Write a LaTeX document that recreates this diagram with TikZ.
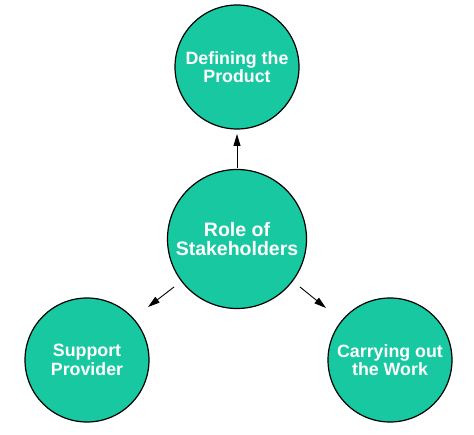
\documentclass[tikz,border=0pt]{standalone}
\usepackage{fontspec}
\setmainfont{Liberation Sans}
\usetikzlibrary{arrows.meta}
\definecolor{teal1}{RGB}{24,200,160}
\begin{document}
\begin{tikzpicture}[x=1pt,y=-1pt,
  bubble/.style={circle,draw=black,line width=1.2pt,fill=teal1,inner sep=0pt,
    text=white,font=\bfseries\fontsize{17.8}{18.5}\selectfont,align=center},
  hub/.style={bubble,font=\bfseries\fontsize{19.5}{19}\selectfont},
  link/.style={-{Triangle[length=12pt,width=7pt]},line width=0.9pt,black}]
\useasboundingbox (0,0) rectangle (474,435);
\node[hub,minimum size=139pt] (c) at (237,239) {Role of\\Stakeholders};
\node[bubble,minimum size=124pt] (t) at (237,67) {Defining the\\Product};
\node[bubble,minimum size=124pt] (l) at (87,360) {Support\\Provider};
\node[bubble,minimum size=124pt] (r) at (390,360) {Carrying out\\the Work};
\coordinate (ts) at (237,168);
\coordinate (te) at (237,134);
\coordinate (ls) at (174,287);
\coordinate (le) at (148,307);
\coordinate (rs) at (300,287);
\coordinate (re) at (326,308);
\draw[link] (ts) -- (te);
\draw[link] (ls) -- (le);
\draw[link] (rs) -- (re);
\end{tikzpicture}
\end{document}
